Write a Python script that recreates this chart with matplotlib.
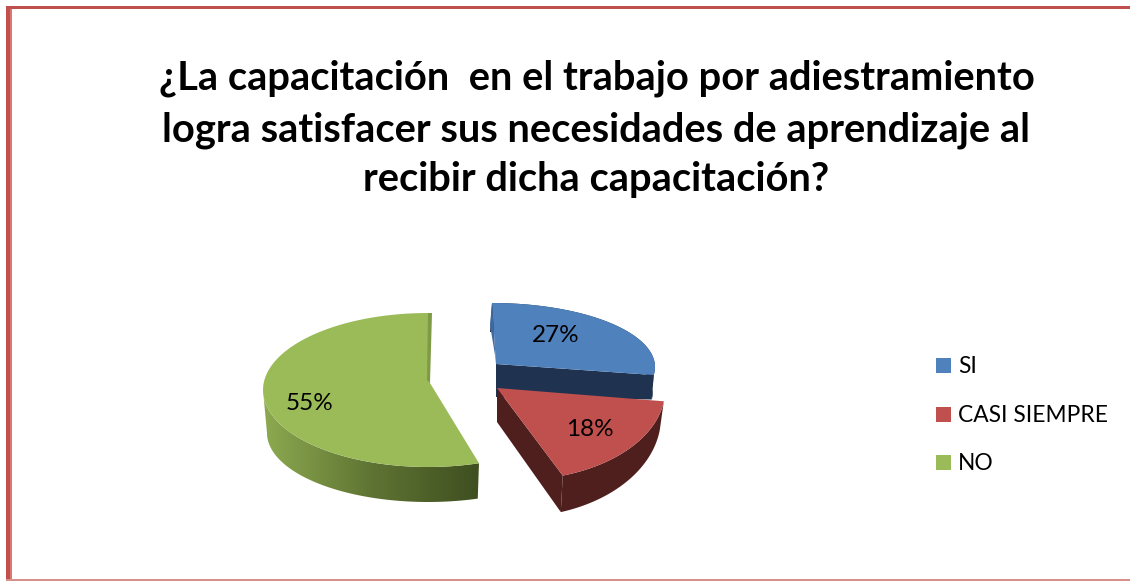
import numpy as np
import matplotlib
matplotlib.use("Agg")
import matplotlib.pyplot as plt
from matplotlib.colors import LinearSegmentedColormap
from matplotlib.patches import Polygon, Rectangle

titulo = [
    "¿La capacitación  en el trabajo por adiestramiento",
    "logra satisfacer sus necesidades de aprendizaje al",
    "recibir dicha capacitación?",
]
categorias = ["SI", "CASI SIEMPRE", "NO"]
valores = [27, 18, 55]

COLORES = ["#4F81BD", "#C0504D", "#9BBB59"]
LATERAL = ["#1F3350", "#4F1F1E", "#8DAA50"]
FUENTE = "Lato"

# geometria de cada porcion en pixeles: vertice, elipse de arriba, elipse de abajo
VERTICE = [(496, 364), (497, 388), (430, 383)]
VERTICE_ABAJO = [(496, 397), (497, 422), (430, 420)]
ARRIBA = [(492, 367, 163, 64), (517, 390, 148, 90), (428, 390, 165, 77)]
ABAJO = [(490, 392, 163, 60), (516, 417, 145, 100), (428, 433, 161, 69)]


def arco(elipse, a0, a1, n=80):
    # angulos en grados, desde arriba y en sentido horario
    cx, cy, rx, ry = elipse
    t = np.radians(np.linspace(a0, a1, n))
    return np.column_stack([cx + rx * np.sin(t), cy - ry * np.cos(t)])


fig = plt.figure(figsize=(11.3, 5.81), dpi=100)
ax = fig.add_axes([0, 0, 1, 1])
ax.set_xlim(0, 1130)
ax.set_ylim(581, 0)
ax.axis("off")

# marco rojo
ax.add_patch(Rectangle((6, 6), 1124, 3, color="#C0504D", lw=0))
ax.add_patch(Rectangle((6, 6), 4, 575, color="#C0504D", lw=0))
ax.add_patch(Rectangle((10, 9), 2, 572, color="#DC7672", lw=0))
ax.add_patch(Rectangle((6, 579), 1124, 2, color="#D98F8C", lw=0))

# titulo
for linea, y in zip(titulo, [78, 130, 180]):
    ax.text(596.5, y, linea, ha="center", va="center", fontsize=28.7,
            fontweight="bold", family=FUENTE, color="black")

# angulos sacados de los valores
limites = np.cumsum([0] + valores) * 360 / sum(valores)

for i in range(3):
    a0, a1 = limites[i], limites[i + 1]
    sup = arco(ARRIBA[i], a0, a1)
    inf = arco(ABAJO[i], a0, a1)
    if i == 2:
        # pared exterior con degradado, solo la parte visible hasta el borde izquierdo
        sup_vis = arco(ARRIBA[i], a0, 270)
        inf_vis = arco(ABAJO[i], a0, 270)
        pared = Polygon(np.vstack([sup_vis, inf_vis[::-1]]), closed=True, fc="none", ec="none")
        ax.add_patch(pared)
        cmap = LinearSegmentedColormap.from_list("lado", [LATERAL[2], "#5F7433", "#3F4F20"])
        img = ax.imshow(np.linspace(0, 1, 256).reshape(1, -1), cmap=cmap, aspect="auto",
                        extent=(263, 479, 510, 380), zorder=2)
        img.set_clip_path(pared)
        ax.set_xlim(0, 1130)
        ax.set_ylim(581, 0)
        ax.add_patch(Polygon(np.vstack([[VERTICE[i]], sup]), closed=True, fc=COLORES[i],
                             ec="none", zorder=3))
        # corte fino junto al vertice
        ax.add_patch(Polygon([sup[-1], sup[-1] + (4, 0), VERTICE[i],
                              (VERTICE[i][0] - 3, VERTICE[i][1] - 3)], closed=True,
                             fc="#7F9A45", ec="none", zorder=4))
    else:
        z = 2 + 3 * i
        # pared exterior y cara del corte
        ax.add_patch(Polygon(np.vstack([sup, inf[::-1]]), closed=True, fc=LATERAL[i],
                             ec="none", zorder=z))
        corte = [VERTICE[i], sup[-1], inf[-1], VERTICE_ABAJO[i]]
        ax.add_patch(Polygon(corte, closed=True, fc=LATERAL[i], ec="none", zorder=z))
        ax.add_patch(Polygon(np.vstack([[VERTICE[i]], sup]), closed=True, fc=COLORES[i],
                             ec="none", zorder=z + 1))
        if i == 0:
            ax.add_patch(Polygon([sup[0], VERTICE[i], (VERTICE[i][0] - 1, VERTICE[i][1] - 9),
                                  sup[0] + (-2, 22)], closed=True, fc="#3F6A9F", ec="none",
                                 zorder=z + 1))

# etiquetas de porcentaje
for v, (x, y) in zip(valores, [(556, 335), (590, 429), (310, 404)]):
    ax.text(x, y, f"{v}%", ha="center", va="center", fontsize=17.5, family=FUENTE,
            color="black", zorder=10)

# leyenda
for nombre, color, y in zip(categorias, COLORES, [366, 415, 463]):
    ax.add_patch(Rectangle((936, y - 8), 15, 15, color=color, lw=0))
    ax.text(958, y + 7, nombre, ha="left", va="baseline", fontsize=16.4, family=FUENTE,
            color="black")

fig.savefig("out.png", dpi=100)
